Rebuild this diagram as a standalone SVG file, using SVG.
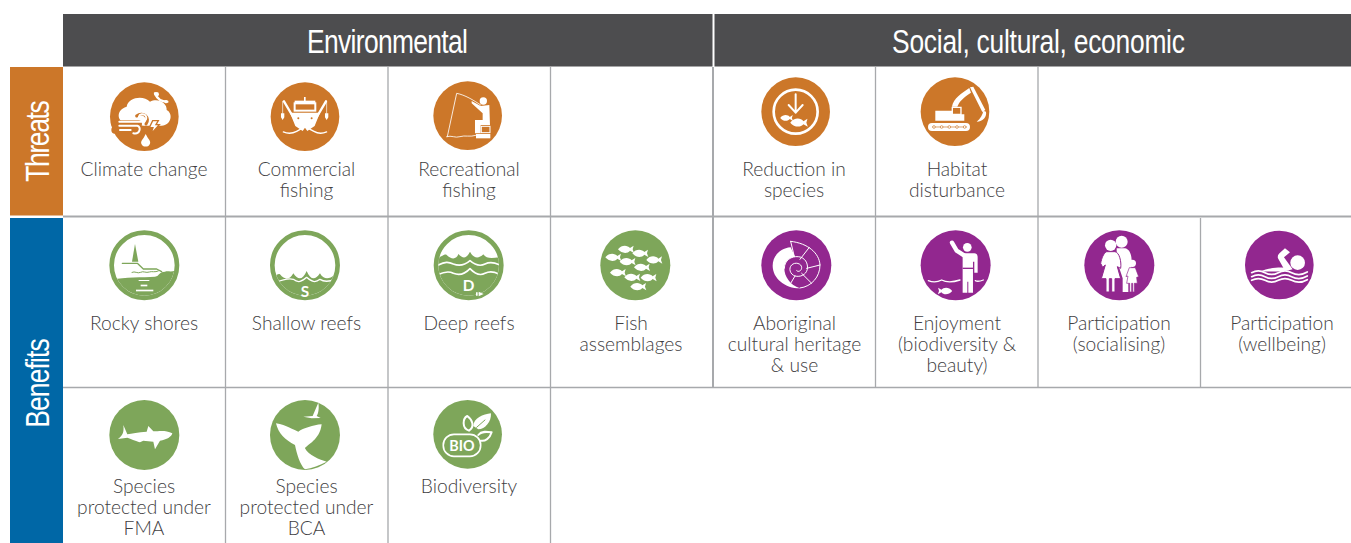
<svg xmlns="http://www.w3.org/2000/svg" width="1351" height="543" viewBox="0 0 1351 543">
<style>
.lbl{font-family:"Lato","Open Sans",sans-serif;font-weight:300;font-size:19.2px;fill:#414042;text-anchor:middle}
.hd{font-family:"Liberation Sans Narrow","Liberation Sans",sans-serif;font-size:33px;fill:#fff;text-anchor:middle}
.gl{stroke:#a7a9ac;stroke-width:1.3;fill:none}
.o{fill:#cc7729}.g{fill:#7ea65a}.p{fill:#92278f}.w{fill:#fff}
.ws{fill:none;stroke:#fff;stroke-linecap:round;stroke-linejoin:round}
.gs{fill:none;stroke:#7ea65a;stroke-linecap:round;stroke-linejoin:round}
.os{fill:none;stroke:#cc7729;stroke-linecap:round;stroke-linejoin:round}
.ic{font-family:"Lato","Open Sans",sans-serif;font-weight:700;fill:#fff;text-anchor:middle}
</style>
<defs>
<path id="fish" d="M-23,0C-12,-15 6,-13 13,-4L24,-11L21,0L25,11L13,4C5,14 -12,13 -23,0Z" fill="#fff"/>
<clipPath id="c1"><circle cx="253" cy="136" r="91"/></clipPath>
<clipPath id="c2"><circle cx="735" cy="136" r="91"/></clipPath>
<clipPath id="c3"><circle cx="146" cy="136" r="91"/></clipPath>
</defs>

<rect width="1351" height="543" fill="#fff"/>

<g id="header-environmental"><rect x="63" y="14" width="649.500" height="52.500" fill="#4d4d4f"/><text class="hd" transform="translate(387.500 52.500) scale(.8 1)" textLength="201" lengthAdjust="spacing">Environmental</text></g>
<g id="header-social"><rect x="714.500" y="14" width="636.500" height="52.500" fill="#4d4d4f"/><text class="hd" transform="translate(1038.500 52.500) scale(.8 1)" textLength="366" lengthAdjust="spacing">Social, cultural, economic</text></g>
<g id="row-threats"><rect x="10" y="67" width="53" height="148.500" class="o"/><text class="hd" transform="translate(49 141) rotate(-90) scale(.8 1)" textLength="102" lengthAdjust="spacing">Threats</text></g>
<g id="row-benefits"><rect x="10" y="218" width="53" height="325" fill="#0067a6"/><text class="hd" transform="translate(48.500 383) rotate(-90) scale(.8 1)" textLength="112" lengthAdjust="spacing">Benefits</text></g>

<g id="connectors" class="gl">
<path d="M225.500 67V543M388 67V543M550.500 67V543M875.500 67V387.500M1038 67V387.500M1200.500 218V387.500"/>
<path d="M713 67V387.500" stroke-width="2"/>
<path d="M63 216.500H1351" stroke-width="2.200"/>
<path d="M63 387.500H1351"/>
</g>

<g id="climate-change"><g transform="translate(60 60) scale(.3333)">
<circle class="o" cx="253" cy="170" r="103"/>
<path class="w" d="M205,190C170,190 165,150 200,140C205,112 250,105 270,125C295,112 322,130 320,150C340,160 335,195 305,197H250Z"/>
<path class="os" stroke-width="22" d="M165,192H235M165,210H225"/>
<path class="os" stroke-width="9" d="M230,168C250,152 272,175 258,192"/>
<path class="ws" stroke-width="6" d="M178,185H245C265,185 262,160 245,163C235,165 235,175 240,177M178,197H232C245,200 240,225 220,220M180,210H212"/>
<path class="w" stroke="#cc7729" stroke-width="4" d="M278,182L295,182L288,194L298,194L273,222L279,203L268,203Z"/>
<path class="w" d="M257,222C265,238 273,243 270,251A14,14 0 0 1 244,251C241,243 250,238 257,222Z"/>
<path class="ws" stroke-width="7" d="M285,100C292,118 305,125 322,125"/>
<circle class="w" cx="290" cy="103" r="7"/><circle class="w" cx="318" cy="125" r="5"/>
</g><text class="lbl" x="144" y="176">Climate change</text></g>

<g id="commercial-fishing"><g transform="translate(60 60) scale(.3333)">
<circle class="o" cx="735" cy="170" r="103"/>
<path class="ws" stroke-width="7" d="M672,124L712,192M798,124L758,192"/>
<path class="ws" stroke-width="2" d="M668,124V160M800,124V160"/>
<path class="w" d="M663,160h10v12l-5,8l-5,-8ZM795,160h10v12l-5,8l-5,-8Z"/>
<rect class="w" x="732" y="111" width="5" height="15"/>
<rect class="w" x="704" y="122" width="62" height="8"/>
<rect x="704" y="130" width="62" height="22" fill="none" stroke="#fff" stroke-width="6"/>
<path class="w" d="M690,158H780L764,198L742,213L735,203L728,213L706,198Z"/>
<circle class="o" cx="715" cy="175" r="3"/><circle class="o" cx="755" cy="175" r="3"/>
<path class="ws" stroke-width="4" d="M670,216C685,222 695,222 710,214C722,208 725,205 735,199C745,205 750,208 762,214C775,222 785,222 800,216"/>
</g><text class="lbl" x="306.500" y="176">Commercial</text><text class="lbl" x="306.500" y="197">fishing</text></g>

<g id="recreational-fishing"><g transform="translate(390 60) scale(.3333)">
<circle class="o" cx="233" cy="167" r="103"/>
<path class="ws" stroke-width="2.500" d="M172,230L200,100C225,105 250,120 272,135"/>
<path class="ws" stroke-width="2.500" d="M170,230C185,225 195,235 210,230C225,225 240,232 258,226"/>
<circle class="w" cx="280" cy="123" r="11"/>
<path class="w" d="M245,123L272,138L298,135L300,195H272V220H255V180H278V160L245,130Z"/>
<rect x="274" y="199" width="26" height="19" fill="none" stroke="#fff" stroke-width="3"/>
<rect class="w" x="258" y="222" width="43" height="13"/>
</g><text class="lbl" x="469" y="176">Recreational</text><text class="lbl" x="469" y="197">fishing</text></g>

<g id="reduction-in-species"><g transform="translate(710 60) scale(.3333)">
<circle class="o" cx="257" cy="155" r="103"/>
<circle cx="257" cy="155" r="66" fill="none" stroke="#fff" stroke-width="8"/>
<path class="ws" stroke-width="6" d="M257,103V158M236,135L257,158L278,135"/>
<use href="#fish" transform="translate(229 174) scale(.8)"/>
<use href="#fish" transform="translate(266 188) scale(1.1)"/>
</g><text class="lbl" x="794" y="176">Reduction in</text><text class="lbl" x="794" y="197">species</text></g>

<g id="habitat-disturbance"><g transform="translate(710 60) scale(.3333)">
<circle class="o" cx="735" cy="155" r="103"/>
<rect class="w" x="654" y="189" width="126" height="24" rx="12"/>
<path class="os" stroke-width="2" d="M668,201H770"/>
<circle cx="672" cy="201" r="4" fill="#fff" stroke="#cc7729" stroke-width="2"/><circle cx="695" cy="201" r="4" fill="#fff" stroke="#cc7729" stroke-width="2"/><circle cx="718" cy="201" r="4" fill="#fff" stroke="#cc7729" stroke-width="2"/><circle cx="741" cy="201" r="4" fill="#fff" stroke="#cc7729" stroke-width="2"/><circle cx="764" cy="201" r="4" fill="#fff" stroke="#cc7729" stroke-width="2"/>
<path class="w" fill-rule="evenodd" d="M676,152H725V140H755V163H763V182H676ZM729,144V161H751V144Z"/>
<path class="w" d="M726,140C730,115 755,100 778,84L783,98C760,112 748,125 742,140Z"/>
<path class="w" d="M780,82L790,80L826,150L817,156Z"/>
<path class="w" d="M820,152L828,155C831,170 820,184 800,185C812,175 818,165 820,152Z"/>
</g><text class="lbl" x="957" y="176">Habitat</text><text class="lbl" x="957" y="197">disturbance</text></g>

<g id="rocky-shores"><g transform="translate(60 220) scale(.3333)">
<circle cx="253" cy="136" r="98" fill="none" stroke="#7ea65a" stroke-width="14"/>
<g clip-path="url(#c1)"><path class="g" d="M160,178C190,172 250,172 285,170C300,168 295,155 315,155C325,152 335,158 350,150V240H160Z"/></g>
<path class="g" d="M225,72L235,125H216Z"/>
<path class="gs" stroke-width="4" d="M187,130H232L250,147H290L305,155"/>
<path class="gs" stroke-width="3" d="M216,157C225,152 232,162 242,157C250,152 258,160 268,156C275,153 285,158 295,153"/>
<rect class="w" x="236" y="180" width="32" height="3"/><rect class="w" x="242" y="194" width="20" height="5"/><rect class="w" x="228" y="209" width="52" height="5"/>
</g><text class="lbl" x="144" y="330">Rocky shores</text></g>

<g id="shallow-reefs"><g transform="translate(60 220) scale(.3333)">
<circle cx="735" cy="136" r="98" fill="none" stroke="#7ea65a" stroke-width="14"/>
<g clip-path="url(#c2)"><path class="g" d="M640,172C650,165 655,160 660,163C675,182 690,180 700,160C715,182 728,180 740,153C752,180 765,182 780,160C790,180 810,178 822,165L840,170V240H640Z"/>
<path class="ws" stroke-width="4" d="M645,188C670,178 690,175 700,178C715,190 725,185 740,172C755,185 765,190 780,178C795,188 810,185 828,176"/></g>
<text class="ic" x="735" y="232" font-size="46">S</text>
</g><text class="lbl" x="306.500" y="330">Shallow reefs</text></g>

<g id="deep-reefs"><g transform="translate(420 220) scale(.3333)">
<circle cx="146" cy="136" r="98" fill="none" stroke="#7ea65a" stroke-width="14"/>
<g clip-path="url(#c3)"><path class="g" d="M50,115C65,110 75,100 80,105C95,120 110,118 115,102C130,118 140,115 150,95C160,115 175,118 190,103C200,118 220,115 245,110V240H50Z"/>
<path class="ws" stroke-width="5" d="M55,135C75,125 85,125 100,132C120,140 135,135 150,122C165,135 180,140 195,132C210,125 225,128 240,135"/>
<path class="ws" stroke-width="5" d="M52,165C72,155 85,152 100,160C120,168 135,162 150,146C165,162 180,168 195,160C210,152 225,155 242,165"/></g>
<text class="ic" x="146" y="214" font-size="46">D</text>
<path class="w" d="M176,215L191,222L176,229ZM168,217h5v10h-5Z"/>
</g><text class="lbl" x="469" y="330">Deep reefs</text></g>

<g id="fish-assemblages"><g transform="translate(420 220) scale(.3333)">
<circle class="g" cx="646" cy="136" r="105"/>
<use href="#fish" transform="translate(617 88)"/><use href="#fish" transform="translate(660 100)"/><use href="#fish" transform="translate(579 112)"/><use href="#fish" transform="translate(622 125)"/><use href="#fish" transform="translate(702 120)"/><use href="#fish" transform="translate(665 142)"/><use href="#fish" transform="translate(593 158)"/><use href="#fish" transform="translate(636 172)"/><use href="#fish" transform="translate(685 173)"/><use href="#fish" transform="translate(654 200)"/>
</g><text class="lbl" x="631" y="330">Fish</text><text class="lbl" x="631" y="351">assemblages</text></g>

<g id="aboriginal-heritage"><g transform="translate(750 220) scale(.3333)">
<circle class="p" cx="139" cy="136" r="105"/>
<path class="w" d="M122,82C90,85 68,108 68,137C68,175 105,205 150,205C120,195 103,170 103,145C103,125 115,113 135,110Z"/>
<path class="ws" stroke-width="3" d="M122,64C175,70 208,100 210,135C210,170 185,200 150,204M122,64L133,110M178,82L150,118M210,135L170,145M185,190L155,160M122,190L135,168"/>
<path class="ws" stroke-width="3" d="M103,145C103,120 125,108 145,110C165,112 175,130 172,148C168,165 150,172 135,168C120,163 115,145 125,135C135,125 155,130 155,143C155,152 145,158 140,152"/>
</g><text class="lbl" x="794.500" y="330">Aboriginal</text><text class="lbl" x="794.500" y="351">cultural heritage</text><text class="lbl" x="794.500" y="372">&amp; use</text></g>

<g id="enjoyment"><g transform="translate(750 220) scale(.3333)">
<circle class="p" cx="617" cy="136" r="105"/>
<circle class="w" cx="652" cy="82" r="13"/>
<path class="ws" stroke-width="13" d="M606,68L620,92L642,106"/>
<path class="w" d="M638,100H673C680,100 683,105 683,112V158H673V125L669,125V218H655V185H652V218H638Z"/>
<rect class="p" x="638" y="143" width="31" height="4"/>
<path class="ws" stroke-width="4" d="M535,182C550,188 560,188 575,180C590,188 605,188 630,180M676,182C683,186 690,184 700,180"/>
<use href="#fish" transform="translate(586 213) scale(-.9 .9)"/>
</g><text class="lbl" x="957" y="330">Enjoyment</text><text class="lbl" x="957" y="351">(biodiversity &amp;</text><text class="lbl" x="957" y="372">beauty)</text></g>

<g id="participation-socialising"><g transform="translate(1060 220) scale(.3333)">
<circle class="p" cx="178" cy="136" r="105"/>
<circle class="w" cx="185" cy="65" r="18"/>
<path class="w" d="M170,85H195C210,88 215,105 215,125L212,175H205V216H188V175L170,120Z"/>
<circle class="w" cx="152" cy="76" r="17"/>
<path class="w" stroke="#92278f" stroke-width="3" d="M140,95H165C178,97 185,125 182,145L172,140L182,176H165V216H155V176H148V216H138V176H124L136,135L128,142L122,130C125,115 130,100 140,95Z"/>
<circle class="w" cx="217" cy="130" r="11"/>
<path class="w" stroke="#92278f" stroke-width="2" d="M208,143H226L236,170L230,172L232,190H223V216H218V190H215V216H209V190H200L204,168L198,170Z"/>
</g><text class="lbl" x="1119" y="330">Participation</text><text class="lbl" x="1119" y="351">(socialising)</text></g>

<g id="participation-wellbeing"><g transform="translate(1060 220) scale(.3333)">
<circle class="p" cx="658" cy="135" r="103"/>
<circle class="w" cx="713" cy="128" r="22"/>
<path class="w" d="M675,85L690,97L672,112L698,148C680,155 640,155 600,155C620,145 650,142 670,143L654,115C652,108 655,102 660,98Z"/>
<path class="ws" stroke-width="5" d="M575,158C590,150 600,150 615,158C630,166 640,166 655,158C670,150 680,150 695,158C710,166 725,166 742,156"/>
<path class="ws" stroke-width="5" d="M575,170C590,162 600,162 615,170C630,178 640,178 655,170C670,162 680,162 695,170C710,178 725,178 742,168"/>
<path class="ws" stroke-width="5" d="M575,181C590,173 600,173 615,181C630,189 640,189 655,181C670,173 680,173 695,181C710,189 725,189 742,179"/>
</g><text class="lbl" x="1282" y="330">Participation</text><text class="lbl" x="1282" y="351">(wellbeing)</text></g>

<g id="species-fma"><g transform="translate(90 390) scale(.3333)">
<circle class="g" cx="163" cy="135" r="105"/>
<path class="w" d="M247,130C225,118 200,125 190,124L175,108L170,125C145,127 125,130 112,133L100,105C102,125 100,135 84,147L112,143C130,150 140,153 150,157L160,152L190,155L195,178L210,152C230,150 245,140 247,130Z"/>
</g><text class="lbl" x="144" y="493">Species</text><text class="lbl" x="144" y="514">protected under</text><text class="lbl" x="144" y="535">FMA</text></g>

<g id="species-bca"><g transform="translate(90 390) scale(.3333)">
<circle class="g" cx="645" cy="135" r="105"/>
<path class="w" d="M558,100C590,105 610,120 625,125C640,115 670,105 695,103C690,150 650,165 645,175C655,195 690,210 710,215C690,225 665,235 645,238C630,225 620,190 615,165C585,150 565,130 558,100Z"/>
<path class="w" d="M640,80L668,78L685,38C688,55 685,70 680,78L692,84L665,85Z"/>
</g><text class="lbl" x="306.500" y="493">Species</text><text class="lbl" x="306.500" y="514">protected under</text><text class="lbl" x="306.500" y="535">BCA</text></g>

<g id="biodiversity"><g transform="translate(90 390) scale(.3333)">
<circle class="g" cx="1133" cy="133" r="103"/>
<rect x="1060" y="133" width="112" height="66" rx="32" fill="none" stroke="#fff" stroke-width="5"/>
<text class="ic" x="1116" y="183" font-size="46" textLength="76" lengthAdjust="spacingAndGlyphs">BIO</text>
<path class="ws" stroke-width="6" d="M1137,122C1115,115 1118,85 1132,78C1148,90 1155,110 1137,122Z"/>
<path class="w" d="M1150,108C1150,85 1180,72 1203,70C1205,95 1185,118 1165,118Z"/>
<path class="ws" stroke-width="6" d="M1165,135C1175,122 1192,125 1205,127C1200,145 1185,155 1172,152"/>
<path class="os" stroke-width="3" d="M1160,112L1185,90" style="stroke:#7ea65a"/>
</g><text class="lbl" x="469" y="493">Biodiversity</text></g>
</svg>
